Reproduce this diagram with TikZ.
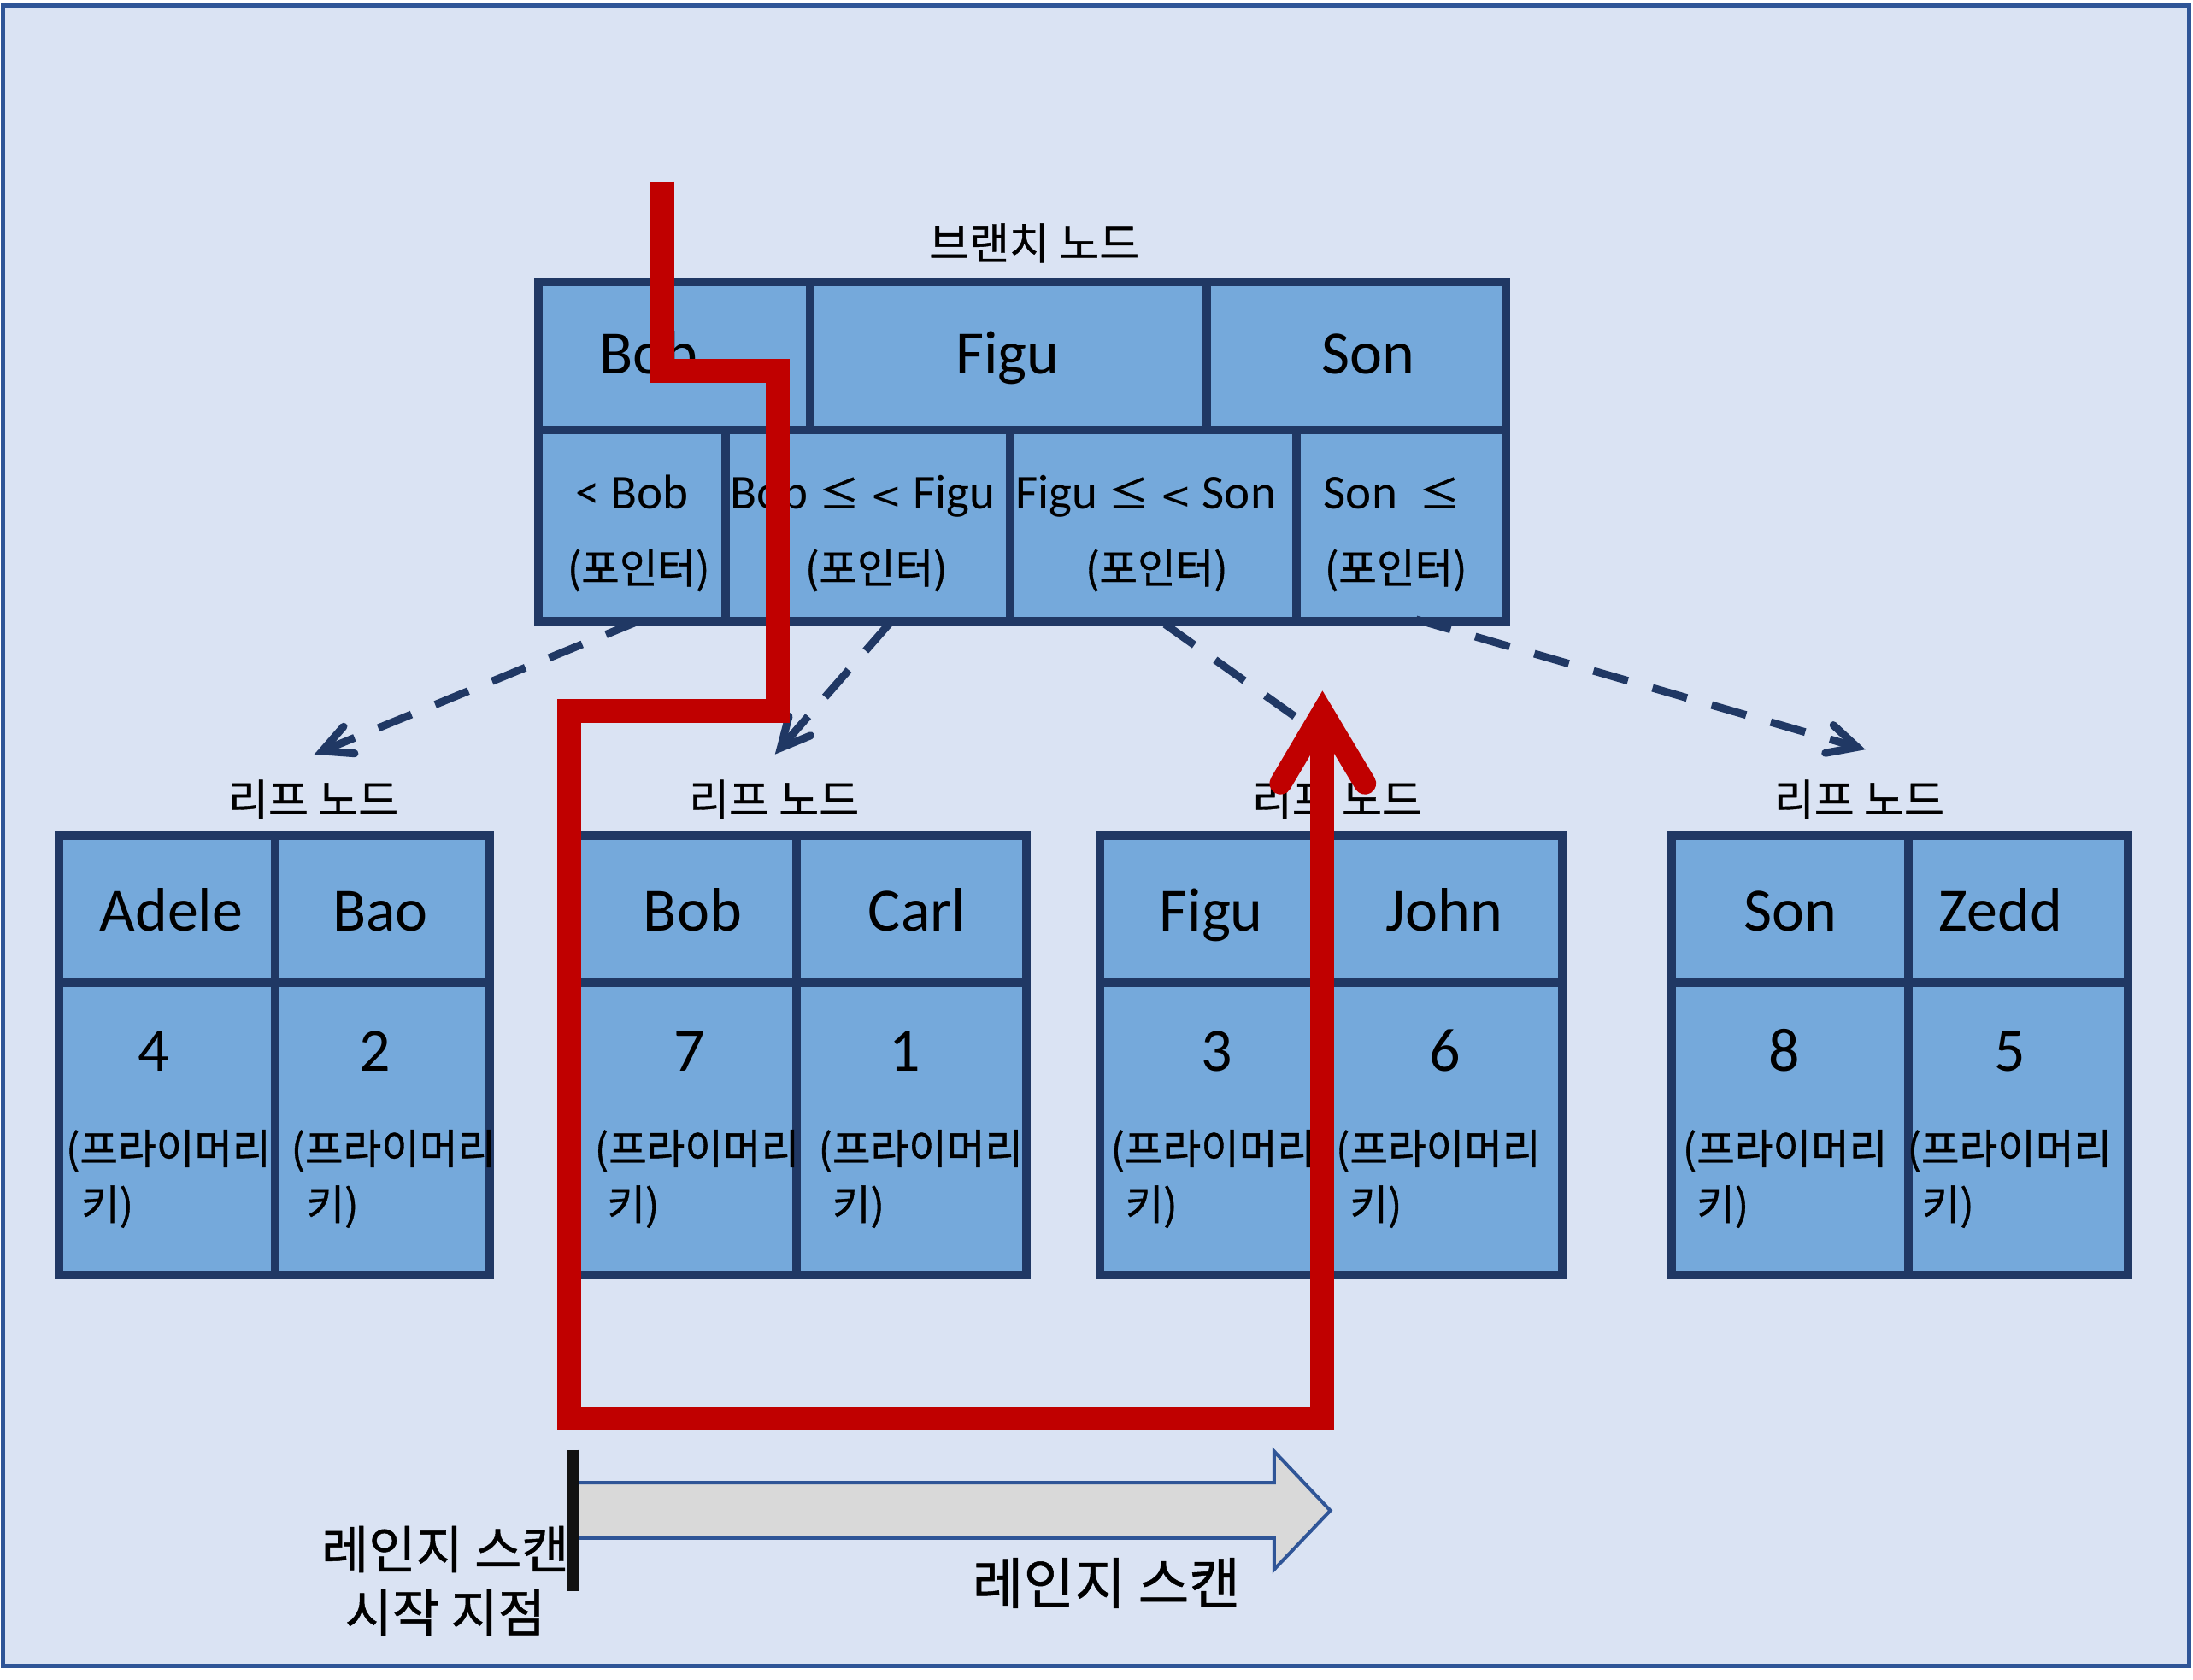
\documentclass[tikz,border=0pt]{standalone}
\usepackage{fontspec}
\setmainfont{Carlito}
\newfontfamily\kr[FakeBold=0.8]{Noto Sans CJK KR}
\newfontfamily\symfont{DejaVu Sans}
\usetikzlibrary{arrows.meta,fit}
\definecolor{bgfill}{HTML}{DAE3F3}
\definecolor{bgline}{HTML}{2F5597}
\definecolor{cellfill}{HTML}{75A9DB}
\definecolor{cellline}{HTML}{203864}
\definecolor{redline}{HTML}{C00000}
\definecolor{grayfill}{HTML}{D9D9D9}
\newcommand{\lesym}{{\kr\fontsize{47}{50}\selectfont ≤}}
\newcommand{\ltsym}{{\symfont\fontsize{44}{50}\selectfont <}}
\begin{document}
\begin{tikzpicture}[x=1.6365pt,y=-1.6365pt,
  cellbox/.style={draw=cellline, fill=cellfill, line width=10pt, inner sep=0pt, line join=miter},
  cellsep/.style={draw=cellline, line width=10pt},
  big/.style={font=\fontsize{72}{86}\selectfont, anchor=base, inner sep=0pt},
  mid/.style={font=\fontsize{57}{68}\selectfont, anchor=base, inner sep=0pt},
  krs/.style={font=\kr\fontsize{48.5}{58}\selectfont, inner sep=0pt},
  ttl/.style={font=\kr\fontsize{51}{60}\selectfont, inner sep=0pt},
  dasharr/.style={draw=cellline, line width=9pt, dash pattern=on 42pt off 30pt,
    -{Straight Barb[length=34pt,width=34pt,line cap=round,line join=miter]}},
  dashline/.style={draw=cellline, line width=9pt, dash pattern=on 42pt off 30pt},
  redpath/.style={draw=redline, line width=28pt, line join=miter, line cap=butt},
  redhead/.style={draw=redline, line width=26pt, line join=miter, line cap=round},
  scanarrow/.style={draw=bgline, fill=grayfill, line width=4pt, line join=miter},
  startbar/.style={draw=black!93, line width=13pt},
  lbl/.style={inner sep=0pt, align=center}
]
\useasboundingbox (0,0) rectangle (1568,1201.3);
\fill[white] (0,0) rectangle (1568,1201.3);
\draw[line width=5pt, draw=bgline, fill=bgfill] (2,3.7) rectangle (1565.2,1191);

% ---------- branch node ----------
\node[cellbox, fit={(384.7,201.9) (1076.6,444.1)}] (branch) {};
\draw[cellsep] (384.7,307.5) -- (1076.6,307.5);
\draw[cellsep] (579.4,201.9) -- (579.4,307.5);
\draw[cellsep] (862.7,201.9) -- (862.7,307.5);
\draw[cellsep] (519,307.5) -- (519,444.1);
\draw[cellsep] (722.5,307.5) -- (722.5,444.1);
\draw[cellsep] (927.2,307.5) -- (927.2,444.1);
\node[ttl] (btitle) at (739.5,173.8) {브랜치 노드};
\node[big] (kBob) at (463.7,267.6) {Bob};
\node[big] (kFigu) at (720.4,267.6) {Figu};
\node[big] (kSon) at (978.2,267.6) {Son};
\node[mid] (r1) at (452,363.8) {< Bob};
\node[mid] (r2) at (616.8,363.8) {Bob \lesym{} \ltsym{} Figu};
\node[mid] (r3) at (819.2,363.8) {Figu \lesym{} \ltsym{} Son};
\node[mid] (r4) at (995,363.8) {Son\ \ \lesym};
\node[krs] (q1) at (456.6,407.8) {(포인터)};
\node[krs] (q2) at (626.5,407.8) {(포인터)};
\node[krs] (q3) at (827,407.8) {(포인터)};
\node[krs] (q4) at (998,407.8) {(포인터)};

% ---------- leaf nodes ----------
\node[cellbox, fit={(42.1,597.8) (350,911.5)}] (leafA) {};
\draw[cellsep] (42.1,703) -- (350,703);
\draw[cellsep] (196.6,597.8) -- (196.6,911.5);
\node[cellbox, fit={(411,597.8) (733.6,911.5)}] (leafB) {};
\draw[cellsep] (411,703) -- (733.6,703);
\draw[cellsep] (569.5,597.8) -- (569.5,911.5);
\node[cellbox, fit={(786.4,597.8) (1117.2,911.5)}] (leafC) {};
\draw[cellsep] (786.4,703) -- (1117.2,703);
\draw[cellsep] (945.6,597.8) -- (945.6,911.5);
\node[cellbox, fit={(1195.1,597.8) (1521.8,911.5)}] (leafD) {};
\draw[cellsep] (1195.1,703) -- (1521.8,703);
\draw[cellsep] (1364.4,597.8) -- (1364.4,911.5);

\node[ttl] (tA) at (224,571.7) {리프 노드};
\node[ttl] (tB) at (553.4,571.7) {리프 노드};
\node[ttl] (tC) at (956,571.7) {리프 노드};
\node[ttl] (tD) at (1329.3,571.7) {리프 노드};

\node[big] (nA1) at (122.5,665.5) {Adele};
\node[big] (nA2) at (272,665.5) {Bao};
\node[big] (nB1) at (495.2,665.5) {Bob};
\node[big] (nB2) at (655.8,665.5) {Carl};
\node[big] (nC1) at (866,665.5) {Figu};
\node[big] (nC2) at (1032.6,665.5) {John};
\node[big] (nD1) at (1280,665.5) {Son};
\node[big] (nD2) at (1430.5,665.5) {Zedd};

\node[big] (vA1) at (109.6,765.7) {4};
\node[big] (vA2) at (268,765.7) {2};
\node[big] (vB1) at (492.7,765.7) {7};
\node[big] (vB2) at (646.7,765.7) {1};
\node[big] (vC1) at (869.7,765.7) {3};
\node[big] (vC2) at (1033,765.7) {6};
\node[big] (vD1) at (1275.7,765.7) {8};
\node[big] (vD2) at (1437,765.7) {5};

\foreach \nm/\xa/\xb in {A1/47/58, A2/208/219, B1/425/434, B2/585/595,
                         C1/794/804.5, C2/955/965, D1/1203/1213, D2/1363.5/1374} {
  \node[krs, anchor=west] (pk\nm) at (\xa,823) {(프라이머리};
  \node[krs, anchor=west] (pkk\nm) at (\xb,862.9) {키)};
}

% ---------- pointer connectors ----------
\coordinate (s1) at (457,444);    \coordinate (e1) at (224.7,539.4);
\coordinate (s2) at (635.8,446);  \coordinate (e2) at (554.1,539.4);
\coordinate (s3) at (833,446.4);  \coordinate (e3) at (952,531);
\coordinate (s4) at (1012.5,443); \coordinate (e4) at (1333.8,536);
\draw[dasharr] (s1) -- (e1);
\draw[dasharr] (s2) -- (e2);
\draw[dashline] (s3) -- (e3);
\draw[dasharr] (s4) -- (e4);

% ---------- search path ----------
\coordinate (r0) at (473.4,130);
\coordinate (rtip) at (945.6,509.5);
\draw[redpath] (r0) -- (473.4,265.5) -- (556,265.5) -- (556,508.2) -- (407,508.2)
  -- (407,1014.5) -- (945.6,1014.5) -- (945.6,512);
\draw[redhead] (915.6,560.2) -- (rtip) -- (976,560.2);

% ---------- range scan arrow ----------
\draw[scanarrow] (410,1060.2) -- (911,1060.2) -- (911,1037.8) -- (951.2,1080.2)
  -- (911,1122.3) -- (911,1099.9) -- (410,1099.9) -- cycle;
\coordinate (bar1) at (409.7,1036.8);
\coordinate (bar2) at (409.7,1138);
\draw[startbar] (bar1) -- (bar2);
\node[lbl, font=\kr\fontsize{60}{74}\selectfont] (startlbl) at (318.3,1130.5) {레인지 스캔\\시작 지점};
\node[lbl, font=\kr\fontsize{65}{76}\selectfont] (scanlbl) at (791,1132) {레인지 스캔};
\end{tikzpicture}
\end{document}
